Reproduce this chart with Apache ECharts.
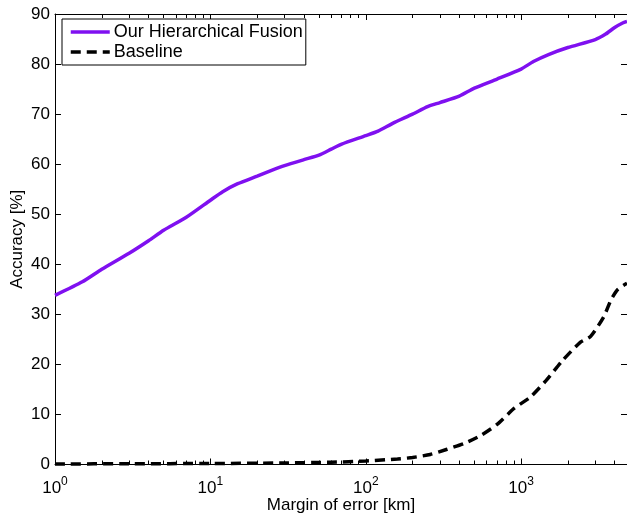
<!DOCTYPE html>
<html>
<head>
<meta charset="utf-8">
<script src="https://cdn.jsdelivr.net/npm/echarts@6/dist/echarts.min.js"></script>
<style>
html,body{margin:0;padding:0;background:#fff;}
#chart{width:627px;height:516px;}
</style>
</head>
<body>
<div id="chart"></div>
<script>
// ---- data ----
var fusionX = [1, 1.5, 2, 3, 4, 5, 7, 10, 12, 15, 20, 25, 30, 40, 50, 60, 70, 100, 120, 150, 200, 250, 300, 400, 500, 700, 1000, 1200, 1500, 2000, 3000, 3500, 4000, 4500, 4800];
var fusionY = [33.8, 36.5, 39.0, 42.2, 44.7, 46.8, 49.4, 52.8, 54.5, 56.1, 57.6, 58.8, 59.7, 60.9, 61.8, 63.0, 64.0, 65.7, 66.6, 68.2, 70.0, 71.5, 72.3, 73.6, 75.2, 77.0, 79.0, 80.5, 81.9, 83.3, 84.9, 86.0, 87.3, 88.2, 88.5];
var baseX = [1, 3, 10, 30, 60, 100, 160, 200, 260, 330, 430, 550, 700, 900, 1150, 1450, 1850, 2400, 2800, 3400, 3800, 4200, 4800];
var baseY = [0.1, 0.15, 0.2, 0.3, 0.45, 0.7, 1.1, 1.4, 2.0, 3.0, 4.2, 5.8, 8.0, 11.2, 13.5, 16.8, 20.8, 24.4, 25.6, 29.5, 33.0, 35.0, 36.2];
var majorTicksX = [1, 10, 100, 1000];
var minorTicksX = [2,3,4,5,6,7,8,9,20,30,40,50,60,70,80,90,200,300,400,500,600,700,800,900,2000,3000,4000];
var seriesNames = ['Our Hierarchical Fusion', 'Baseline'];
var xMin = 1, xMax = 4800, yMin = 0, yMax = 90, yStep = 10;

function pairs(xs, ys) { return xs.map(function (x, i) { return [x, ys[i]]; }); }

var FONT = 'Liberation Sans, Arial, sans-serif';
function xAxisDef(pos, tickVals, len, showLine, showLabel) {
  return {
    type: 'log', logBase: 10, min: xMin, max: xMax, position: pos,
    axisLine: { show: showLine, lineStyle: { color: '#000', width: 1 } },
    axisTick: { show: true, inside: true, length: len, customValues: tickVals, lineStyle: { color: '#000', width: 1 } },
    axisLabel: showLabel ? {
      show: true, customValues: majorTicksX, margin: 11,
      formatter: function (v) { return '{b|10}{sup|' + Math.round(Math.log10(v)) + '}'; },
      rich: {
        b: { fontSize: 17, fontFamily: FONT, color: '#000', verticalAlign: 'bottom' },
        sup: { fontSize: 12, fontFamily: FONT, color: '#000', verticalAlign: 'bottom', padding: [0, 0, 9, 0] }
      },
      fontSize: 17, fontFamily: FONT, color: '#000'
    } : { show: false },
    splitLine: { show: false }
  };
}
function yAxisDef(pos, showLabel) {
  return {
    type: 'value', min: yMin, max: yMax, interval: yStep, position: pos,
    axisLine: { show: true, lineStyle: { color: '#000', width: 1 } },
    axisTick: { show: true, inside: true, length: 6, lineStyle: { color: '#000', width: 1 } },
    axisLabel: { show: showLabel, fontSize: 17, fontFamily: FONT, color: '#000', margin: 5 },
    splitLine: { show: false }
  };
}

var x0 = xAxisDef('bottom', majorTicksX, 6, true, true);
x0.name = 'Margin of error [km]';
x0.nameLocation = 'middle';
x0.nameGap = 32;
x0.nameMoveOverlap = false;
x0.nameTextStyle = { fontSize: 17, fontFamily: FONT, color: '#000' };
var y0 = yAxisDef('left', true);
y0.name = 'Accuracy [%]';
y0.nameLocation = 'middle';
y0.nameGap = 29;
y0.nameMoveOverlap = false;
y0.nameTextStyle = { fontSize: 17, fontFamily: FONT, color: '#000' };

var chart = echarts.init(document.getElementById('chart'), null, { renderer: 'canvas' });
chart.setOption({
  animation: false,
  backgroundColor: '#fff',
  grid: { left: 55, right: 0, top: 14, bottom: 51.5, containLabel: false, outerBoundsMode: 'none' },
  legend: {
    left: 62, top: 19, orient: 'vertical',
    data: seriesNames,
    itemWidth: 39, itemHeight: 14, itemGap: 2,
    padding: [4, 3, 4, 7],
    borderColor: '#000', borderWidth: 1, backgroundColor: '#fff',
    itemStyle: { color: 'rgba(0,0,0,0)', borderColor: 'rgba(0,0,0,0)', borderWidth: 0 },
    lineStyle: { width: 3.5 },
    textStyle: { fontSize: 18, fontFamily: FONT, color: '#000', padding: [0, 0, 0, -1] }
  },
  xAxis: [
    x0,
    xAxisDef('bottom', minorTicksX, 4, false, false),
    xAxisDef('top', majorTicksX, 6, true, false),
    xAxisDef('top', minorTicksX, 4, false, false)
  ],
  yAxis: [y0, yAxisDef('right', false)],
  series: [
    {
      name: seriesNames[0], type: 'line', xAxisIndex: 0, yAxisIndex: 0,
      data: pairs(fusionX, fusionY), symbol: 'none', smooth: 0.2,
      lineStyle: { color: '#7f10f0', width: 3.5 }, itemStyle: { color: '#7f10f0' }, z: 3
    },
    {
      name: seriesNames[1], type: 'line', xAxisIndex: 0, yAxisIndex: 0,
      data: pairs(baseX, baseY), symbol: 'none', smooth: 0.2,
      lineStyle: { color: '#000', width: 3.5, type: [10, 6] }, itemStyle: { color: '#000' }, z: 2
    }
  ]
});
</script>
</body>
</html>
